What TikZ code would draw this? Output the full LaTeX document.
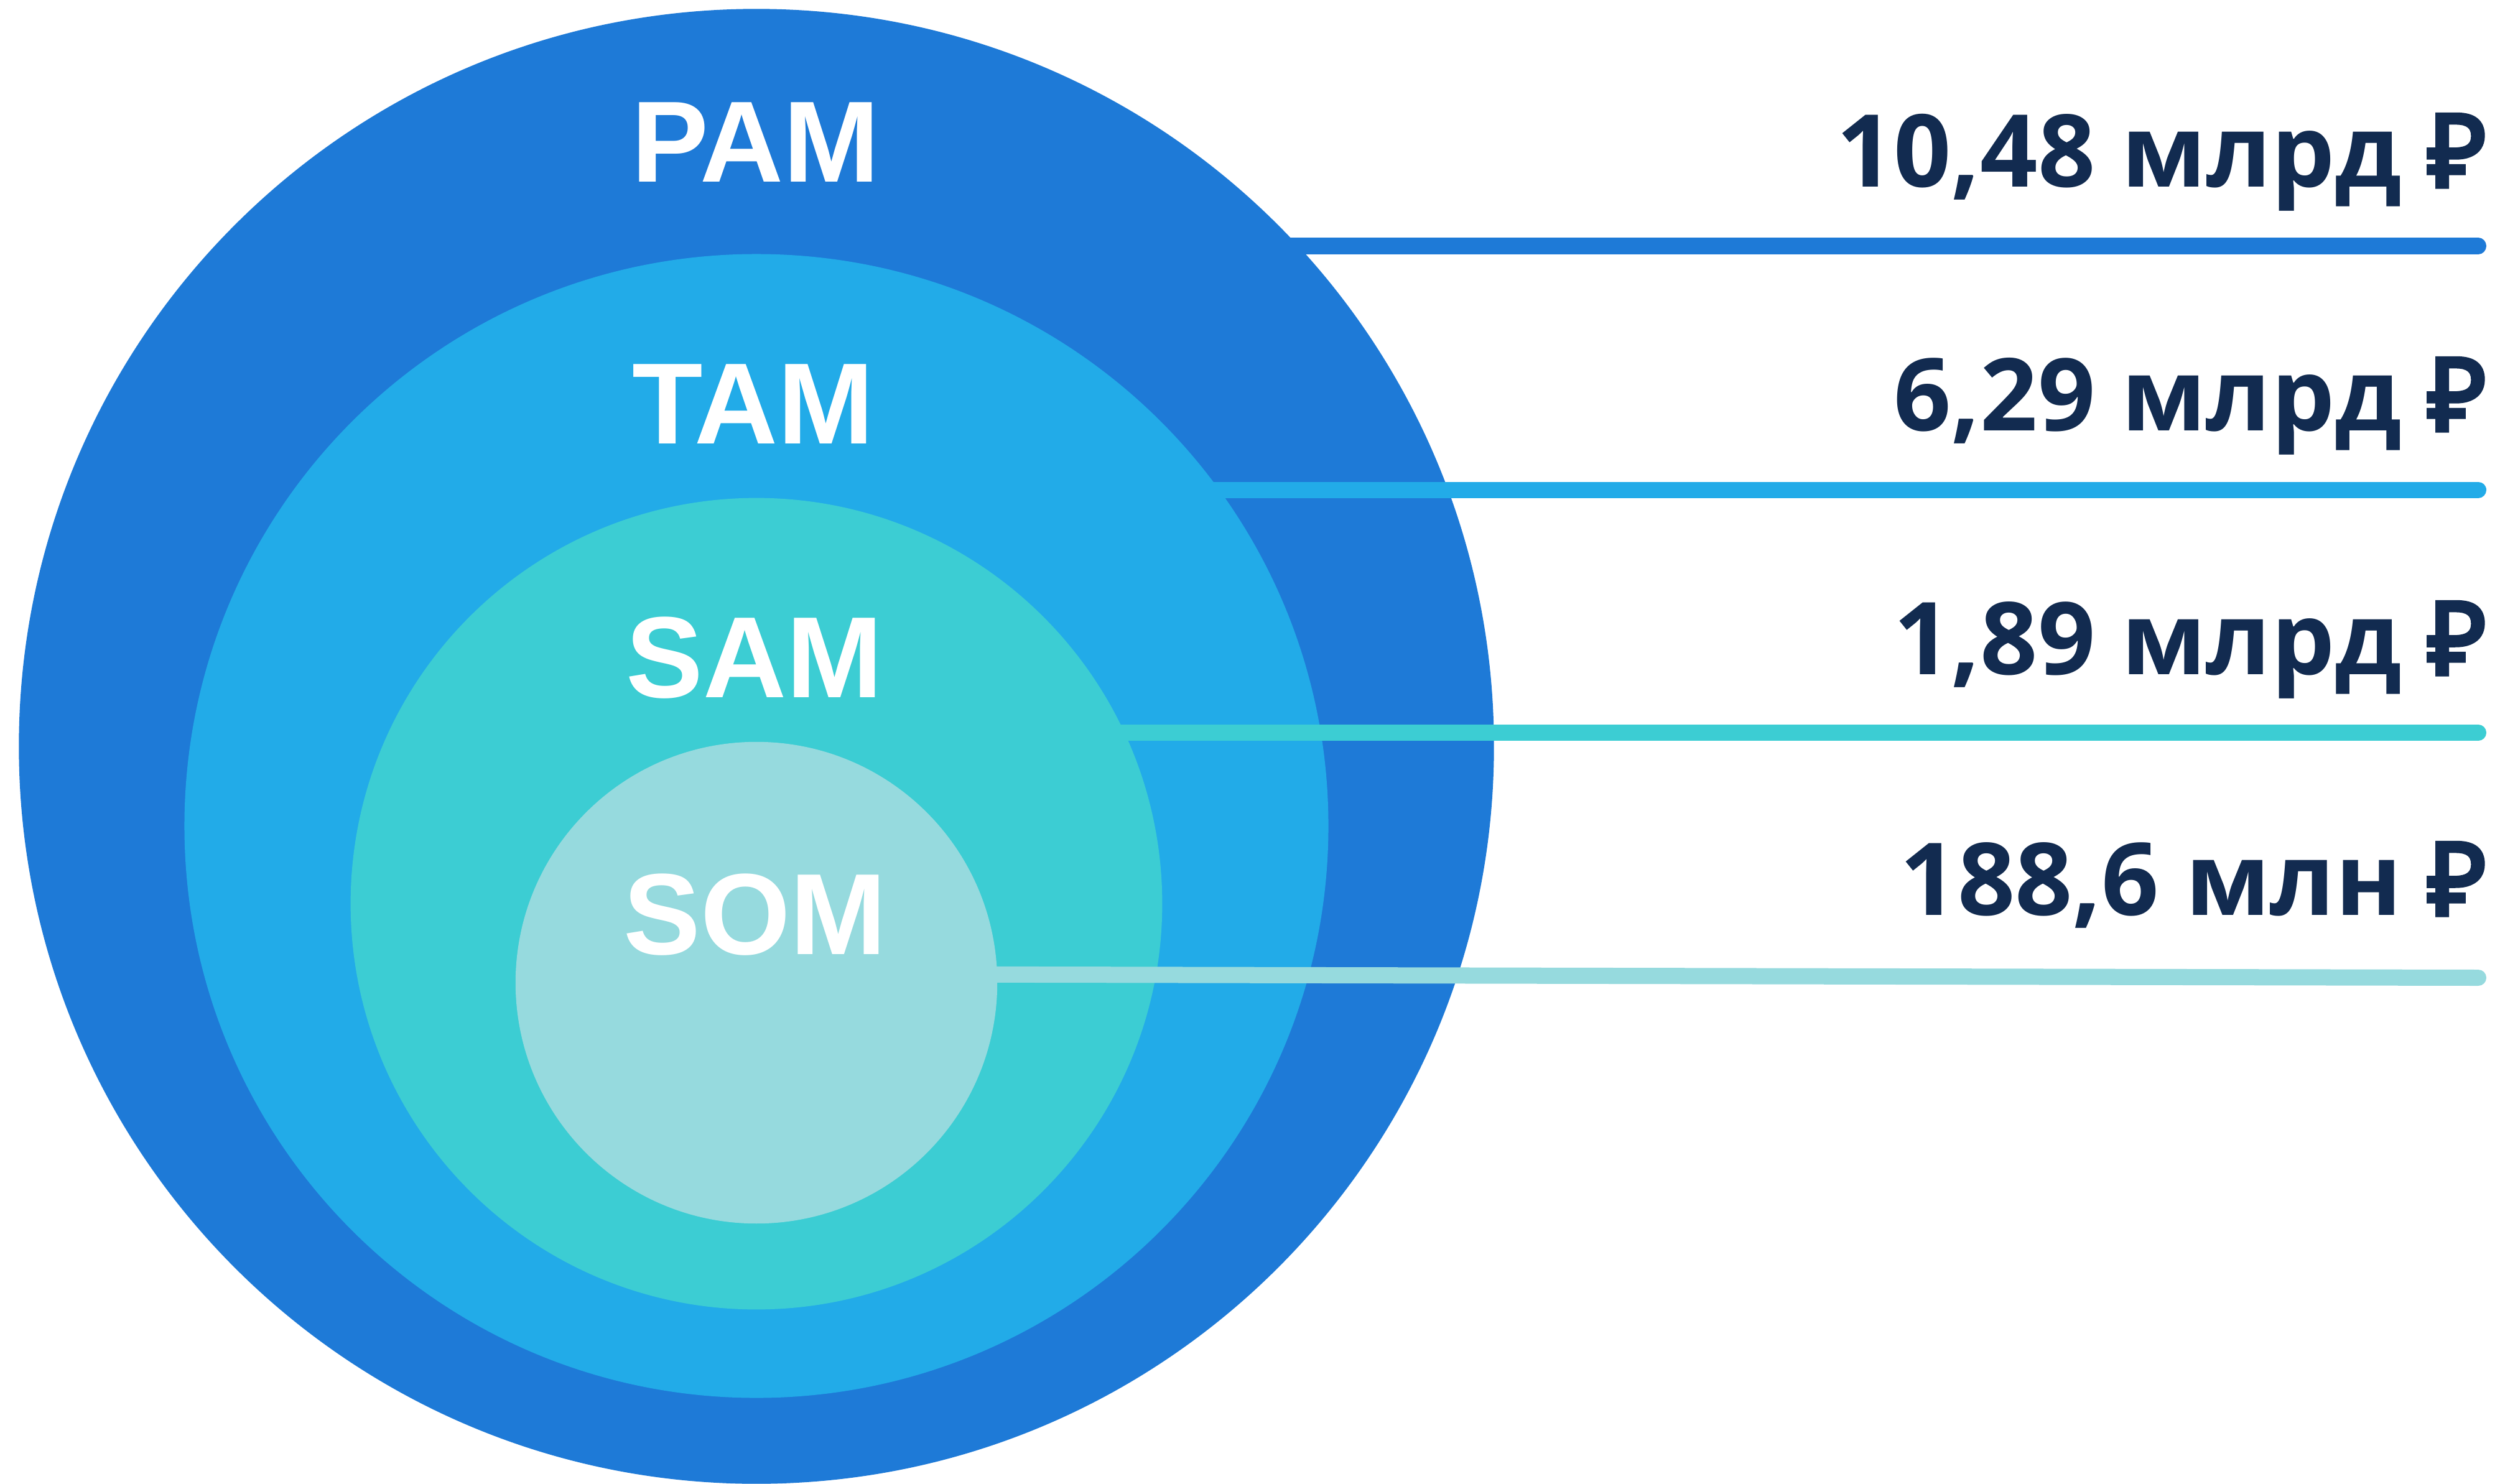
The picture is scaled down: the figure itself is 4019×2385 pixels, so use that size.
\documentclass[tikz,border=0pt]{standalone}
\usepackage{fontspec}
\usetikzlibrary{calc}
\setmainfont{Liberation Sans}
\newfontfamily\valfont{Open Sans}
\newfontfamily\rubfont{Noto Sans}[FakeBold=4.5]
\definecolor{pamc}{HTML}{1E7AD7}
\definecolor{tamc}{HTML}{22ABE8}
\definecolor{samc}{HTML}{3CCDD3}
\definecolor{somc}{HTML}{96DADE}
\definecolor{navy}{HTML}{122B50}
\begin{document}
\begin{tikzpicture}[x=0.01cm, y=-0.01cm,
  ring/.style={circle, inner sep=0pt, outer sep=0pt},
  tag/.style={text=white, font=\fontsize{52.8pt}{60pt}\selectfont\bfseries, anchor=base, inner sep=0pt},
  value/.style={text=navy, font=\valfont\fontsize{46pt}{52pt}\selectfont\bfseries, anchor=base east, inner sep=0pt},
  bar/.style={line width=0.26cm, line cap=round}]
\useasboundingbox (0,0) rectangle (4019,2385);
% end points of the bars
\coordinate (pamEnd) at (3984,395.5);
\coordinate (tamEnd) at (3984,787.5);
\coordinate (samEnd) at (3984,1178);
\coordinate (somEnd) at (3984,1572);
\coordinate (somStart) at (1216,1566);
% PAM
\node[ring, fill=pamc, minimum size=23.70cm] (pam) at (1216,1200) {};
\draw[bar, pamc] (pam.center |- pamEnd) -- (pamEnd);
% TAM
\node[ring, fill=tamc, minimum size=18.38cm] (tam) at (1216,1328) {};
\draw[bar, tamc] (tam.center |- tamEnd) -- (tamEnd);
% SAM
\node[ring, fill=samc, minimum size=13.04cm] (sam) at (1216,1453) {};
\draw[bar, samc] (sam.center |- samEnd) -- (samEnd);
% SOM
\node[ring, fill=somc, minimum size=7.74cm] (som) at (1216,1580) {};
\draw[bar, somc] (somStart) -- (somEnd);
% circle labels
\node[tag] (pamLbl) at (1215,292) {PAM};
\node[tag] (tamLbl) at (1211,713) {TAM};
\node[tag] (samLbl) at (1213,1121) {SAM};
\node[tag] (somLbl) at (1214,1534) {SOM};
% values
\node[value] (pamVal) at (3998,300) {10,48 млрд {\rubfont ₽}};
\node[value] (tamVal) at (3998,692) {6,29 млрд {\rubfont ₽}};
\node[value] (samVal) at (3998,1084) {1,89 млрд {\rubfont ₽}};
\node[value] (somVal) at (3998,1471) {188,6 млн {\rubfont ₽}};
\end{tikzpicture}
\end{document}
